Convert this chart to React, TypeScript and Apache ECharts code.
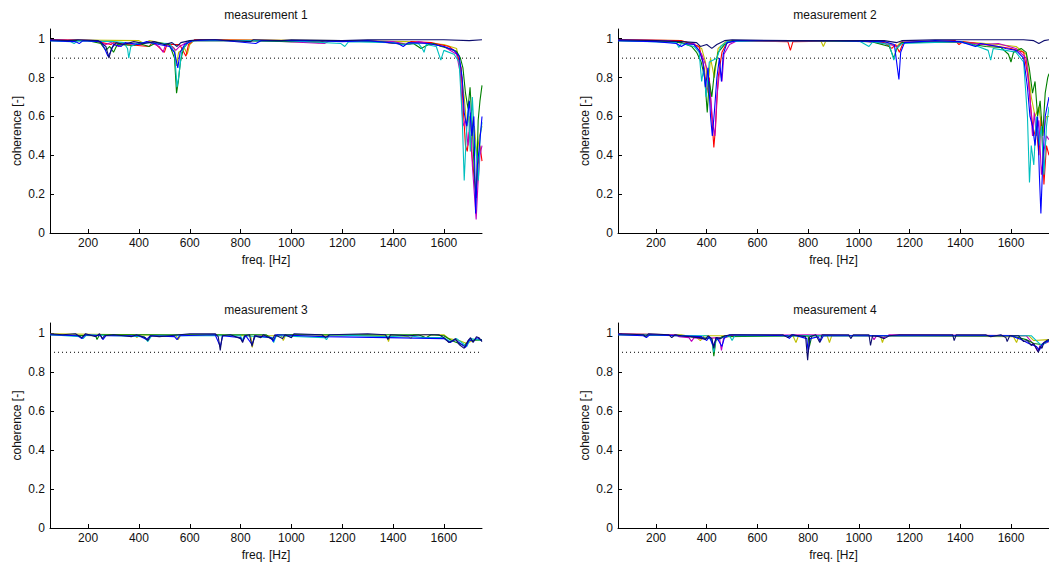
import React, { useEffect, useRef } from 'react';
import * as echarts from 'echarts';

type Pt = [number, number];

const TITLES = ['measurement 1', 'measurement 2', 'measurement 3', 'measurement 4'];
const X_NAME = 'freq. [Hz]';
const Y_NAME = 'coherence [-]';
const X_TICKS = [200, 400, 600, 800, 1000, 1200, 1400, 1600];
const Y_TICKS = [0, 0.2, 0.4, 0.6, 0.8, 1];
const F_MIN = 50;
const F_MAX = 1750;
const Y_MAX = 1.05;
const THRESHOLD = 0.9;

const C_BLUE = '#0000ff';
const C_GREEN = '#008000';
const C_RED = '#ff0000';
const C_CYAN = '#00bfbf';
const C_MAGENTA = '#bf00bf';
const C_YELLOW = '#bfbf00';
const C_NAVY = '#0d0d6e';

// ---------- measurement 1 ----------
const M1_BLUE: Pt[] = [[50,.99],[150,.985],[165,.975],[180,.99],[250,.985],[265,.95],[278,.91],[288,.93],[300,.97],[330,.96],[345,.98],[400,.97],[430,.985],[480,.97],[520,.96],[540,.93],[553,.85],[562,.93],[580,.97],[610,.99],[700,.995],[860,.975],[880,.99],[1100,.99],[1200,.985],[1300,.99],[1420,.975],[1440,.96],[1460,.98],[1540,.975],[1600,.96],[1640,.94],[1660,.91],[1672,.8],[1680,.62],[1690,.55],[1700,.68],[1710,.5],[1718,.6],[1725,.1],[1732,.35],[1740,.45],[1750,.6]];
const M1_GREEN: Pt[] = [[50,.99],[200,.99],[250,.975],[270,.94],[285,.96],[300,.93],[315,.97],[380,.965],[400,.975],[440,.96],[470,.98],[520,.97],[540,.9],[548,.72],[555,.78],[563,.88],[575,.95],[600,.99],[800,.99],[1000,.985],[1200,.99],[1350,.985],[1450,.97],[1480,.975],[1510,.95],[1540,.97],[1560,.975],[1590,.96],[1620,.95],[1650,.935],[1665,.9],[1675,.85],[1685,.72],[1695,.64],[1703,.75],[1712,.55],[1720,.3],[1727,.18],[1735,.58],[1742,.68],[1750,.76]];
const M1_RED: Pt[] = [[50,.995],[220,.99],[290,.97],[300,.98],[350,.97],[440,.96],[455,.985],[500,.93],[510,.97],[560,.97],[585,.91],[595,.97],[620,.995],[1000,.99],[1110,.98],[1130,.99],[1300,.99],[1450,.97],[1470,.985],[1550,.98],[1620,.96],[1650,.93],[1668,.85],[1678,.6],[1685,.45],[1692,.42],[1700,.52],[1710,.4],[1718,.3],[1726,.2],[1733,.32],[1742,.45],[1750,.37]];
const M1_CYAN: Pt[] = [[50,.99],[130,.985],[145,.975],[160,.99],[300,.985],[340,.98],[355,.95],[360,.9],[368,.96],[400,.98],[520,.975],[540,.93],[550,.75],[556,.8],[568,.93],[590,.98],[620,.99],[980,.99],[1195,.975],[1210,.96],[1225,.985],[1400,.98],[1430,.97],[1500,.975],[1515,.95],[1522,.93],[1530,.97],[1570,.96],[1588,.89],[1600,.94],[1640,.92],[1660,.88],[1672,.6],[1680,.27],[1688,.5],[1696,.65],[1704,.42],[1712,.7],[1720,.5],[1728,.4],[1736,.27],[1743,.5],[1750,.57]];
const M1_MAGENTA: Pt[] = [[50,.995],[230,.99],[270,.97],[290,.98],[320,.96],[335,.975],[410,.97],[440,.985],[480,.96],[495,.93],[505,.97],[530,.96],[545,.94],[560,.96],[600,.99],[900,.99],[1130,.975],[1150,.99],[1400,.985],[1460,.97],[1500,.985],[1600,.96],[1650,.92],[1665,.82],[1675,.55],[1685,.58],[1695,.45],[1705,.62],[1712,.35],[1720,.2],[1727,.07],[1734,.25],[1742,.4],[1750,.45]];
const M1_YELLOW: Pt[] = [[50,.995],[400,.99],[420,.975],[440,.99],[520,.97],[540,.95],[548,.86],[556,.93],[580,.95],[590,.92],[600,.97],[620,.995],[1200,.99],[1450,.985],[1600,.97],[1650,.95],[1670,.8],[1680,.7],[1690,.55],[1700,.6],[1710,.5],[1720,.55],[1730,.4],[1740,.5],[1750,.55]];
const M1_NAVY: Pt[] = [[50,.995],[120,.99],[160,.995],[240,.99],[270,.96],[282,.9],[292,.95],[310,.98],[340,.97],[380,.985],[420,.975],[460,.985],[500,.97],[530,.98],[550,.96],[565,.98],[600,.99],[640,.995],[700,.995],[840,.985],[850,.995],[960,.99],[1000,.995],[1200,.99],[1300,.995],[1400,.995],[1500,.995],[1600,.995],[1700,.99],[1750,.995]];

// ---------- measurement 2 ----------
const M2_BLUE: Pt[] = [[50,.99],[200,.985],[280,.975],[300,.96],[320,.975],[350,.97],[370,.94],[385,.88],[395,.75],[405,.85],[415,.6],[422,.5],[430,.62],[440,.8],[450,.9],[458,.78],[465,.92],[480,.98],[520,.99],[700,.99],[900,.99],[1100,.985],[1140,.97],[1152,.85],[1158,.79],[1165,.93],[1180,.98],[1300,.99],[1400,.985],[1460,.96],[1480,.975],[1550,.96],[1580,.95],[1620,.94],[1650,.9],[1665,.75],[1675,.6],[1685,.55],[1695,.45],[1705,.6],[1712,.3],[1718,.1],[1725,.35],[1735,.6],[1750,.7]];
const M2_GREEN: Pt[] = [[50,.99],[250,.985],[300,.98],[340,.96],[360,.93],[378,.88],[392,.8],[402,.62],[410,.78],[420,.7],[432,.85],[445,.93],[470,.97],[500,.99],[800,.99],[1050,.985],[1120,.96],[1138,.9],[1150,.95],[1170,.98],[1400,.985],[1450,.97],[1500,.96],[1560,.955],[1590,.92],[1600,.88],[1610,.93],[1640,.95],[1660,.93],[1672,.85],[1685,.72],[1695,.78],[1705,.6],[1715,.68],[1725,.5],[1735,.72],[1745,.8],[1750,.82]];
const M2_RED: Pt[] = [[50,.995],[300,.99],[340,.975],[370,.96],[390,.85],[400,.72],[410,.8],[420,.6],[428,.44],[435,.55],[445,.8],[460,.93],[480,.98],[520,.99],[720,.985],[730,.94],[740,.985],[1000,.99],[1100,.98],[1130,.95],[1145,.97],[1160,.93],[1175,.98],[1380,.99],[1395,.97],[1410,.985],[1550,.96],[1600,.95],[1650,.93],[1668,.8],[1680,.62],[1690,.5],[1700,.55],[1710,.4],[1720,.6],[1730,.25],[1740,.45],[1750,.4]];
const M2_CYAN: Pt[] = [[50,.99],[180,.985],[280,.98],[290,.955],[300,.975],[350,.96],[370,.93],[380,.78],[388,.85],[398,.7],[410,.88],[440,.9],[455,.96],[480,.985],[600,.99],[1000,.99],[1040,.96],[1055,.985],[1120,.97],[1138,.89],[1148,.95],[1170,.975],[1400,.985],[1470,.96],[1510,.94],[1520,.89],[1530,.95],[1580,.94],[1620,.93],[1650,.88],[1665,.6],[1673,.26],[1680,.45],[1690,.35],[1700,.6],[1710,.45],[1720,.55],[1730,.3],[1740,.55],[1750,.65]];
const M2_MAGENTA: Pt[] = [[50,.995],[250,.99],[330,.97],[350,.975],[380,.92],[400,.85],[412,.75],[425,.55],[432,.5],[440,.7],[452,.85],[460,.78],[468,.92],[490,.97],[520,.99],[1000,.99],[1100,.975],[1155,.96],[1175,.99],[1420,.98],[1500,.97],[1550,.975],[1620,.95],[1660,.9],[1675,.7],[1685,.5],[1692,.62],[1700,.5],[1710,.58],[1720,.3],[1730,.42],[1740,.5],[1750,.48]];
const M2_YELLOW: Pt[] = [[50,.995],[300,.99],[350,.97],[380,.95],[395,.88],[405,.75],[415,.9],[430,.8],[445,.95],[480,.99],[850,.99],[860,.96],[870,.99],[1100,.985],[1150,.96],[1170,.99],[1450,.98],[1550,.97],[1620,.96],[1660,.92],[1680,.7],[1695,.6],[1710,.65],[1725,.5],[1740,.6],[1750,.6]];
const M2_NAVY: Pt[] = [[50,.995],[200,.99],[300,.985],[360,.98],[375,.96],[400,.97],[420,.95],[440,.97],[470,.99],[500,.995],[730,.99],[850,.99],[1100,.99],[1150,.98],[1170,.99],[1300,.995],[1500,.995],[1650,.995],[1690,.99],[1710,.975],[1730,.99],[1750,.995]];

// ---------- measurement 3 ----------
const M3_BLUE: Pt[] = [[50,.99],[160,.985],[175,.97],[190,.99],[250,.985],[258,.965],[270,.985],[400,.985],[430,.965],[445,.985],[540,.98],[550,.965],[560,.985],[700,.99],[720,.93],[730,.985],[800,.975],[808,.955],[820,.985],[845,.94],[858,.985],[920,.975],[928,.955],[940,.99],[1130,.98],[1380,.975],[1600,.97],[1625,.95],[1645,.965],[1665,.945],[1685,.925],[1700,.965],[1715,.955],[1730,.975],[1750,.96]];
const M3_GREEN: Pt[] = [[50,.99],[230,.985],[235,.965],[245,.99],[900,.99],[930,.965],[945,.99],[1500,.99],[1530,.975],[1550,.99],[1600,.985],[1630,.96],[1680,.935],[1700,.96],[1750,.965]];
const M3_CYAN: Pt[] = [[50,.99],[170,.98],[180,.97],[195,.99],[420,.98],[435,.955],[450,.985],[800,.985],[806,.96],[815,.985],[925,.975],[930,.95],[940,.985],[1130,.975],[1138,.965],[1150,.99],[1380,.98],[1460,.985],[1520,.975],[1600,.975],[1625,.955],[1650,.97],[1670,.95],[1690,.93],[1705,.97],[1750,.96]];
const M3_YELLOW: Pt[] = [[50,.995],[380,.99],[392,.975],[400,.99],[545,.985],[555,.965],[565,.99],[840,.985],[846,.925],[855,.985],[960,.985],[968,.96],[978,.99],[1375,.985],[1382,.955],[1390,.99],[1460,.98],[1470,.97],[1480,.99],[1600,.99],[1620,.97],[1660,.96],[1690,.945],[1720,.965],[1750,.96]];
const M3_NAVY: Pt[] = [[50,.995],[100,.99],[150,.995],[175,.975],[190,.995],[230,.98],[245,.995],[255,.97],[265,.985],[300,.99],[340,.985],[370,.98],[390,.99],[425,.975],[435,.96],[445,.985],[480,.98],[520,.985],[560,.99],[600,.995],[700,.995],[712,.98],[720,.91],[728,.985],[760,.99],[800,.97],[808,.95],[816,.985],[835,.99],[845,.93],[855,.985],[880,.975],[890,.99],[925,.965],[935,.99],[965,.97],[975,.99],[1000,.975],[1010,.995],[1120,.99],[1135,.975],[1150,.99],[1300,.995],[1370,.99],[1380,.965],[1390,.99],[1460,.985],[1520,.99],[1580,.99],[1600,.975],[1620,.95],[1635,.96],[1645,.97],[1660,.94],[1680,.92],[1695,.96],[1705,.975],[1715,.95],[1728,.98],[1738,.975],[1750,.955]];

// ---------- measurement 4 ----------
const M4_BLUE: Pt[] = [[50,.99],[150,.985],[162,.975],[175,.99],[380,.98],[400,.96],[410,.98],[425,.935],[440,.975],[460,.93],[470,.975],[490,.99],[720,.985],[725,.97],[740,.99],[795,.97],[800,.9],[808,.97],[840,.98],[848,.955],[860,.985],[1600,.985],[1640,.965],[1670,.945],[1700,.93],[1712,.91],[1725,.945],[1750,.96]];
const M4_GREEN: Pt[] = [[50,.99],[300,.985],[420,.97],[428,.88],[436,.96],[460,.98],[800,.985],[805,.93],[815,.985],[1600,.985],[1660,.965],[1690,.945],[1720,.94],[1750,.96]];
const M4_CYAN: Pt[] = [[50,.99],[400,.985],[420,.96],[428,.9],[436,.965],[490,.985],[500,.96],[510,.985],[1680,.985],[1700,.96],[1720,.935],[1750,.96]];
const M4_MAGENTA: Pt[] = [[50,.995],[280,.99],[290,.98],[330,.975],[340,.955],[350,.975],[380,.97],[450,.975],[458,.91],[466,.97],[490,.985],[800,.99],[1050,.985],[1060,.965],[1070,.985],[1100,.975],[1120,.99],[1660,.985],[1680,.955],[1695,.93],[1705,.905],[1715,.935],[1750,.955]];
const M4_YELLOW: Pt[] = [[50,.995],[300,.99],[360,.975],[375,.96],[390,.985],[740,.985],[752,.95],[762,.985],[875,.985],[884,.95],[893,.985],[1085,.985],[1093,.95],[1102,.985],[1610,.98],[1622,.95],[1632,.985],[1670,.985],[1690,.96],[1750,.965]];
const M4_NAVY: Pt[] = [[50,.995],[150,.99],[160,.98],[170,.995],[250,.99],[262,.975],[275,.99],[300,.985],[330,.98],[370,.975],[395,.965],[405,.985],[420,.97],[428,.92],[436,.975],[455,.97],[470,.985],[500,.99],[700,.99],[720,.975],[735,.99],[790,.98],[798,.86],[806,.98],[830,.99],[846,.95],[855,.99],[960,.99],[968,.97],[978,.99],[1040,.99],[1046,.935],[1054,.985],[1080,.98],[1100,.97],[1120,.985],[1160,.99],[1370,.99],[1376,.96],[1384,.99],[1500,.99],[1520,.98],[1560,.99],[1580,.975],[1585,.955],[1595,.985],[1630,.985],[1650,.955],[1665,.96],[1680,.935],[1690,.945],[1700,.92],[1708,.9],[1715,.93],[1722,.92],[1730,.95],[1740,.96],[1750,.965]];

const PANELS: { data: Pt[]; color: string }[][] = [
  [
    { data: M1_YELLOW, color: C_YELLOW },
    { data: M1_RED, color: C_RED },
    { data: M1_MAGENTA, color: C_MAGENTA },
    { data: M1_GREEN, color: C_GREEN },
    { data: M1_CYAN, color: C_CYAN },
    { data: M1_BLUE, color: C_BLUE },
    { data: M1_NAVY, color: C_NAVY },
  ],
  [
    { data: M2_YELLOW, color: C_YELLOW },
    { data: M2_RED, color: C_RED },
    { data: M2_MAGENTA, color: C_MAGENTA },
    { data: M2_GREEN, color: C_GREEN },
    { data: M2_CYAN, color: C_CYAN },
    { data: M2_BLUE, color: C_BLUE },
    { data: M2_NAVY, color: C_NAVY },
  ],
  [
    { data: M3_YELLOW, color: C_YELLOW },
    { data: M3_GREEN, color: C_GREEN },
    { data: M3_CYAN, color: C_CYAN },
    { data: M3_BLUE, color: C_BLUE },
    { data: M3_NAVY, color: C_NAVY },
  ],
  [
    { data: M4_YELLOW, color: C_YELLOW },
    { data: M4_MAGENTA, color: C_MAGENTA },
    { data: M4_GREEN, color: C_GREEN },
    { data: M4_CYAN, color: C_CYAN },
    { data: M4_BLUE, color: C_BLUE },
    { data: M4_NAVY, color: C_NAVY },
  ],
];

const FONT = "'Liberation Sans', Arial, Helvetica, sans-serif";

function buildOption() {
  const grids = [
    { left: 50, top: 29, width: 432, height: 204 },
    { left: 618, top: 29, width: 434, height: 204 },
    { left: 50, top: 323, width: 432, height: 205 },
    { left: 618, top: 323, width: 434, height: 205 },
  ];
  const axisLine = { show: true, lineStyle: { color: '#000', width: 1 } };
  const xAxes = grids.map((_, i) => ({
    type: 'value',
    gridIndex: i,
    min: F_MIN,
    max: F_MAX,
    name: X_NAME,
    nameLocation: 'middle',
    nameGap: 21,
    nameTextStyle: { color: '#111', fontSize: 12, fontFamily: FONT },
    axisLine,
    splitLine: { show: false },
    axisTick: { show: true, inside: true, length: 4, customValues: X_TICKS, lineStyle: { color: '#000' } },
    axisLabel: {
      show: true,
      customValues: X_TICKS,
      color: '#111',
      fontSize: 12,
      fontFamily: FONT,
      margin: 4,
      formatter: (v: number) => String(Math.round(v)),
    },
  }));
  const yAxes = grids.map((_, i) => ({
    type: 'value',
    gridIndex: i,
    min: 0,
    max: Y_MAX,
    name: Y_NAME,
    nameLocation: 'middle',
    nameGap: 27,
    nameTextStyle: { color: '#111', fontSize: 12, fontFamily: FONT },
    axisLine,
    splitLine: { show: false },
    axisTick: { show: true, inside: true, length: 4, customValues: Y_TICKS, lineStyle: { color: '#000' } },
    axisLabel: {
      show: true,
      customValues: Y_TICKS,
      color: '#111',
      fontSize: 12,
      fontFamily: FONT,
      margin: 5,
      formatter: (v: number) => String(Math.round(v * 10) / 10),
    },
  }));
  const series: any[] = [];
  PANELS.forEach((panel, i) => {
    panel.forEach((s) => {
      series.push({
        type: 'line',
        xAxisIndex: i,
        yAxisIndex: i,
        data: s.data,
        symbol: 'none',
        showSymbol: false,
        lineStyle: { color: s.color, width: 1.1 },
        itemStyle: { color: s.color },
        silent: true,
        z: 3,
      });
    });
    series.push({
      type: 'line',
      xAxisIndex: i,
      yAxisIndex: i,
      data: [[F_MIN, THRESHOLD], [F_MAX, THRESHOLD]],
      symbol: 'none',
      showSymbol: false,
      lineStyle: { color: '#000', width: 1, type: [1, 3] },
      silent: true,
      z: 2,
    });
  });
  const titlePos = [
    { x: 266, y: 15 },
    { x: 835, y: 15 },
    { x: 266, y: 310 },
    { x: 835, y: 310 },
  ];
  const graphic = TITLES.map((t, i) => ({
    type: 'text',
    x: titlePos[i].x,
    y: titlePos[i].y,
    style: {
      text: t,
      fill: '#111',
      font: `12px ${FONT}`,
      textAlign: 'center',
      textVerticalAlign: 'middle',
    },
  }));
  return {
    animation: false,
    backgroundColor: '#ffffff',
    grid: grids,
    xAxis: xAxes,
    yAxis: yAxes,
    series,
    graphic,
  };
}

export default function App() {
  const ref = useRef<HTMLDivElement>(null);
  useEffect(() => {
    if (!ref.current) return;
    const chart = echarts.init(ref.current, undefined, { renderer: 'svg' });
    chart.setOption(buildOption() as any);
    return () => chart.dispose();
  }, []);
  return (
    <div
      ref={ref}
      style={{ position: 'fixed', left: 0, top: 0, width: 1049, height: 563, background: '#fff' }}
    />
  );
}
